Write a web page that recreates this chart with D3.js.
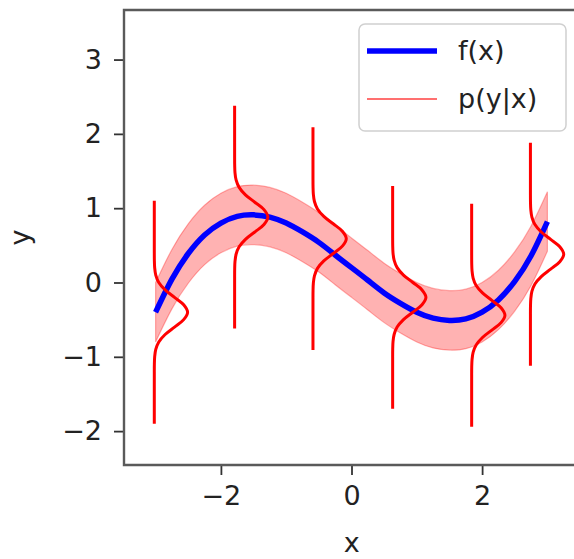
<!DOCTYPE html>
<html>
<head>
<meta charset="utf-8">
<script src="https://cdn.jsdelivr.net/npm/d3@7"></script>
<style>
  html, body { margin: 0; padding: 0; background: #fff; }
  svg { display: block; }
  text { font-family: "DejaVu Sans", sans-serif; fill: #222; }
</style>
</head>
<body>
<svg id="chart" width="574" height="559"></svg>
<script>
// ---- data ----
const fX = [-3, -2.75, -2.5, -2.25, -2, -1.75, -1.5, -1.25, -1, -0.75, -0.5, -0.25, 0,
            0.25, 0.5, 0.75, 1, 1.25, 1.5, 1.75, 2, 2.25, 2.5, 2.75, 3];
const fY = [-0.40, 0.045, 0.39, 0.64, 0.80, 0.89, 0.91, 0.88, 0.80, 0.68, 0.54, 0.37, 0.20,
            0.03, -0.14, -0.28, -0.40, -0.48, -0.51, -0.49, -0.40, -0.235, 0.015, 0.36, 0.82];
const bandHalf = 0.4;                                      // half width of the pink band
const densX = [-3.02, -1.79, -0.59, 0.63, 1.84, 2.74];     // x of each p(y|x) curve
const densMean = [-0.40, 0.88, 0.59, -0.20, -0.44, 0.38];  // centre of each bump
const densPeak = 0.51;                                     // bump height in x units
const profileDy = [-1.5, -1.0, -0.8, -0.7, -0.6, -0.5, -0.4, -0.3, -0.2, -0.1, 0,
                   0.1, 0.2, 0.3, 0.4, 0.5, 0.6, 0.7, 0.8, 1.0, 1.5];
const profileW = [0, 0, 0.0003, 0.002, 0.011, 0.044, 0.135, 0.325, 0.607, 0.882, 1,
                  0.882, 0.607, 0.325, 0.135, 0.044, 0.011, 0.002, 0.0003, 0, 0];
const xTicks = [-2, 0, 2];
const yTicks = [-2, -1, 0, 1, 2, 3];
const legendLabels = ["f(x)", "p(y|x)"];
const axisLabels = ["x", "y"];

// ---- layout ----
const svg = d3.select("#chart");
const L = 124, T = 10, R = 579.4, B = 465;
const x = d3.scaleLinear().domain([-3.484, 3.49]).range([L, R]);
const y = d3.scaleLinear().domain([-2.456, 3.667]).range([B, T]);
const FS = 27;

svg.append("defs").append("clipPath").attr("id", "clip")
  .append("rect").attr("x", L).attr("y", T).attr("width", R - L).attr("height", B - T);
const plot = svg.append("g").attr("clip-path", "url(#clip)");

const fData = fX.map((v, i) => [v, fY[i]]);

// band
plot.append("path")
  .datum(fData)
  .attr("d", d3.area().x(d => x(d[0])).y0(d => y(d[1] - bandHalf)).y1(d => y(d[1] + bandHalf))
    .curve(d3.curveNatural))
  .attr("fill", "red").attr("fill-opacity", 0.3)
  .attr("stroke", "red").attr("stroke-opacity", 0.3).attr("stroke-width", 1.2);

// f(x)
plot.append("path")
  .datum(fData)
  .attr("d", d3.line().x(d => x(d[0])).y(d => y(d[1])).curve(d3.curveNatural))
  .attr("fill", "none").attr("stroke", "#0000ff").attr("stroke-width", 5.5);

// densities
const densLine = d3.line().curve(d3.curveCatmullRom.alpha(0.5));
densX.forEach((cx, k) => {
  const pts = profileDy.map((dy, i) => [x(cx + densPeak * profileW[i]), y(densMean[k] + dy)]);
  plot.append("path")
    .attr("d", densLine(pts))
    .attr("fill", "none").attr("stroke", "#ff0000").attr("stroke-width", 3)
    .attr("stroke-linejoin", "round");
});

// axes
const spineColor = "#5a5a5a";
const gx = svg.append("g").attr("transform", `translate(0,${B})`)
  .call(d3.axisBottom(x).tickValues(xTicks).tickSize(10).tickPadding(10)
    .tickFormat(d => d < 0 ? "\u2212" + Math.abs(d) : String(d)));
const gy = svg.append("g").attr("transform", `translate(${L},0)`)
  .call(d3.axisLeft(y).tickValues(yTicks).tickSize(10).tickPadding(12)
    .tickFormat(d => d < 0 ? "\u2212" + Math.abs(d) : String(d)));
[gx, gy].forEach(g => {
  g.select(".domain").remove();
  g.selectAll(".tick line").attr("stroke", "#333").attr("stroke-width", 1.8);
  g.selectAll(".tick text").attr("font-size", FS).attr("font-family", "DejaVu Sans").attr("fill", "#1e1e1e");
});
gx.selectAll(".tick text").attr("dy", "0.75em");

// spines
svg.append("path")
  .attr("d", `M${R},${T}H${L}V${B}H${R}`)
  .attr("fill", "none").attr("stroke", spineColor).attr("stroke-width", 2.4);

// axis labels
svg.append("text").attr("x", (L + R) / 2).attr("y", 552)
  .attr("text-anchor", "middle").attr("font-size", FS).text(axisLabels[0]);
svg.append("text").attr("transform", `translate(29,${(T + B) / 2}) rotate(-90)`)
  .attr("text-anchor", "middle").attr("font-size", FS).text(axisLabels[1]);

// legend
const lg = svg.append("g");
lg.append("rect").attr("x", 359).attr("y", 24).attr("width", 207).attr("height", 107)
  .attr("rx", 6).attr("fill", "#fff").attr("fill-opacity", 0.85)
  .attr("stroke", "#d0d0d0").attr("stroke-width", 1.5);
lg.append("line").attr("x1", 367).attr("x2", 437).attr("y1", 51).attr("y2", 51)
  .attr("stroke", "#0000ff").attr("stroke-width", 5.5);
lg.append("line").attr("x1", 367).attr("x2", 437).attr("y1", 99).attr("y2", 99)
  .attr("stroke", "#ff0000").attr("stroke-width", 1.3).attr("stroke-opacity", 0.75);
lg.append("text").attr("x", 458).attr("y", 51 + 8.5).attr("font-size", FS).text(legendLabels[0]);
lg.append("text").attr("x", 458).attr("y", 99 + 8.5).attr("font-size", FS).text(legendLabels[1]);
</script>
</body>
</html>
